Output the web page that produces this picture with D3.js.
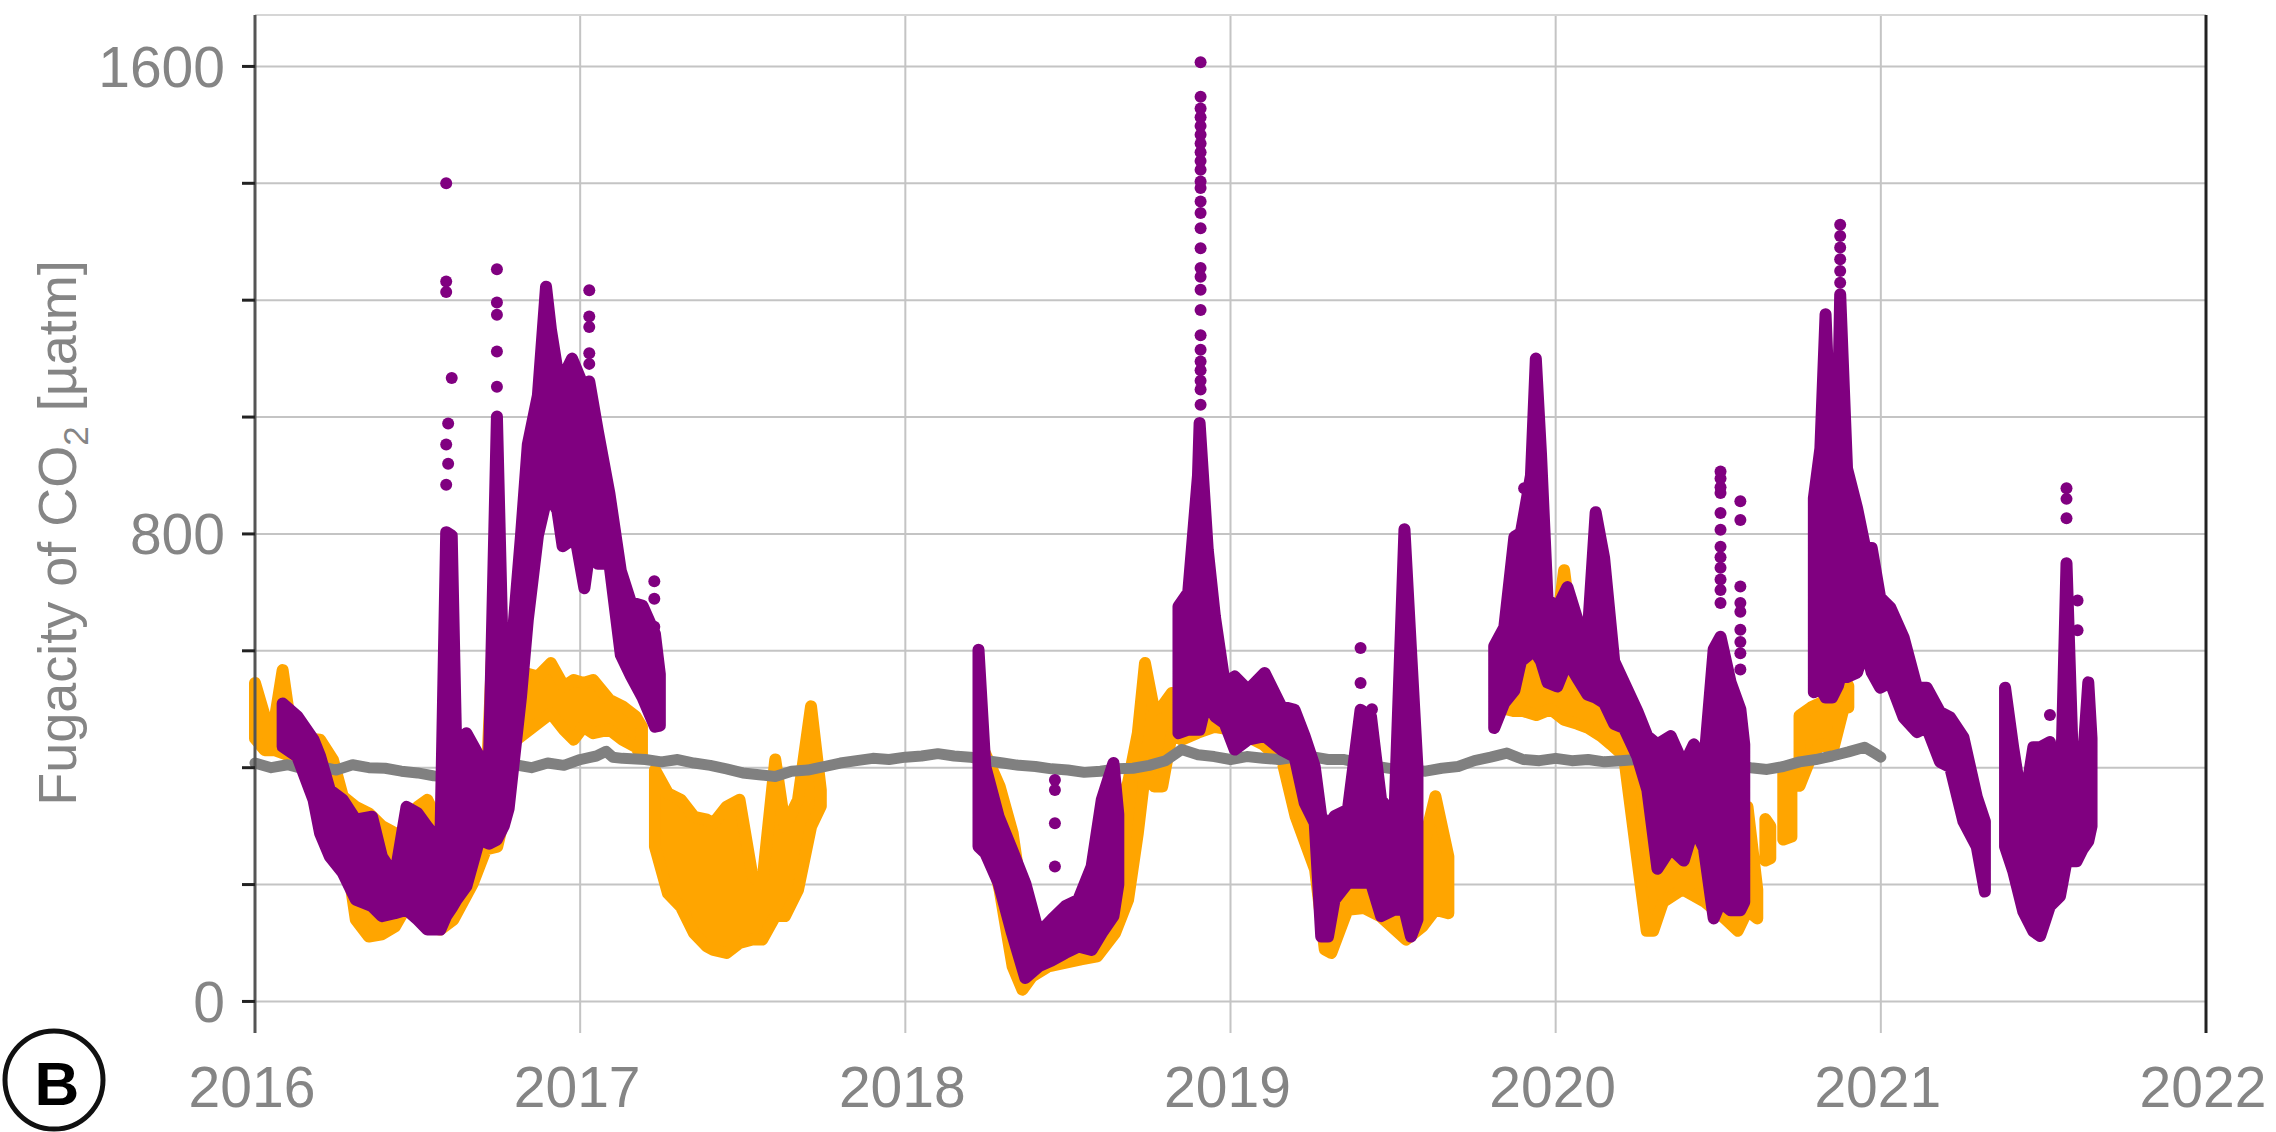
<!DOCTYPE html>
<html>
  <head>
    <meta charset="utf-8" />
    <script src="https://cdn.jsdelivr.net/npm/d3@7"></script>
    <style>
      body {
        margin: 0;
        background: #fff;
        font-family: "Liberation Sans", Arial, sans-serif;
      }
    </style>
  </head>
  <body>
    <script>
      // year ticks and the y ticks that carry a label
      var years = [2016, 2017, 2018, 2019, 2020, 2021, 2022];
      var yTicks = [0, 200, 400, 600, 800, 1000, 1200, 1400, 1600];
      var yLabels = [0, 800, 1600];

      // orange series: [year, low, high] envelope of the dense points, null = gap
      var orangeBand = [
        [2016.0, 450, 545], [2016.03, 430, 488], [2016.06, 430, 480], [2016.085, 425, 567],
        [2016.11, 420, 470], [2016.16, 400, 450], [2016.2, 360, 448], [2016.24, 330, 413],
        [2016.27, 290, 351], [2016.31, 140, 333], [2016.35, 111, 322], [2016.39, 115, 300],
        [2016.43, 128, 288], [2016.46, 157, 231], [2016.5, 146, 333], [2016.53, 128, 345],
        [2016.57, 123, 299], [2016.61, 140, 288], [2016.67, 202, 356], [2016.71, 260, 345],
        [2016.745, 265, 800], [2016.76, 300, 516], [2016.79, 442, 516], [2016.83, 459, 562],
        [2016.87, 476, 556], [2016.91, 493, 579], [2016.95, 465, 539], [2016.98, 448, 550],
        [2017.01, 470, 545], [2017.04, 459, 550], [2017.09, 465, 516], [2017.13, 448, 505],
        [2017.17, 436, 488], [2017.19, 420, 470], null,
        [2017.23, 265, 396], [2017.27, 185, 356], [2017.31, 162, 345], [2017.35, 117, 316],
        [2017.39, 94, 311], [2017.41, 88, 305], [2017.45, 83, 333], [2017.49, 100, 345],
        [2017.53, 106, 214], [2017.56, 106, 202], [2017.6, 146, 414], [2017.63, 146, 299],
        [2017.67, 191, 345], [2017.71, 299, 505], [2017.74, 334, 362], null,
        [2018.245, 300, 425], [2018.29, 191, 368], [2018.33, 60, 288], [2018.36, 20, 174],
        [2018.39, 43, 117], [2018.44, 60, 117], [2018.54, 72, 146], [2018.59, 77, 231],
        [2018.645, 117, 316], [2018.685, 174, 374], [2018.715, 288, 459], [2018.737, 391, 579],
        [2018.765, 368, 499], [2018.79, 368, 505], [2018.82, 459, 528], [2018.85, 448, 516],
        [2018.9, 460, 530], [2018.95, 470, 520], [2019.0, 465, 525], [2019.05, 454, 500],
        [2019.1, 440, 480], [2019.16, 410, 440], [2019.2, 317, 419], [2019.26, 226, 317],
        [2019.29, 89, 260], [2019.31, 83, 200], [2019.36, 157, 203], [2019.41, 160, 210],
        [2019.46, 146, 203], [2019.54, 106, 174], [2019.59, 128, 260], [2019.63, 157, 351],
        [2019.67, 151, 248], null,
        [2019.82, 504, 546], [2019.87, 497, 580], [2019.9, 497, 596], [2019.94, 490, 617],
        [2019.985, 500, 560], [2020.026, 482, 738], [2020.067, 475, 560], [2020.1, 468, 546],
        [2020.14, 454, 596], [2020.17, 440, 525], [2020.21, 420, 500], [2020.25, 248, 404],
        [2020.28, 121, 333], [2020.3, 121, 300], [2020.33, 170, 262], [2020.39, 192, 262],
        [2020.46, 170, 290], [2020.52, 142, 227], [2020.56, 121, 333], [2020.59, 156, 333],
        [2020.62, 142, 191], null,
        [2020.645, 241, 312], [2020.66, 245, 300], null,
        [2020.7, 277, 390], [2020.725, 282, 393], null,
        [2020.75, 369, 489], [2020.785, 418, 503], [2020.815, 440, 511], [2020.855, 435, 529],
        [2020.886, 503, 554], [2020.9, 503, 540], null
      ];

      // purple series envelope
      var purpleBand = [
        [2016.085, 436, 510], [2016.13, 419, 488], [2016.18, 345, 448], [2016.2, 288, 420],
        [2016.23, 248, 362], [2016.27, 220, 345], [2016.31, 174, 311], [2016.36, 163, 316],
        [2016.39, 146, 248], [2016.43, 151, 214], [2016.466, 157, 333], [2016.5, 140, 322],
        [2016.53, 123, 299], [2016.57, 123, 271], [2016.588, 146, 803], [2016.605, 160, 797],
        [2016.62, 174, 402], [2016.65, 197, 459], [2016.69, 277, 419], [2016.72, 270, 420],
        [2016.744, 277, 1001], [2016.765, 300, 520], [2016.78, 330, 540], [2016.818, 521, 797],
        [2016.839, 653, 953], [2016.87, 797, 1037], [2016.895, 857, 1223], [2016.91, 860, 1150],
        [2016.93, 840, 1080], [2016.946, 779, 1067], [2016.975, 790, 1100], [2016.99, 779, 1080],
        [2017.013, 707, 1049], [2017.028, 767, 1061], [2017.054, 749, 977], [2017.09, 749, 869],
        [2017.125, 593, 737], [2017.156, 557, 683], [2017.192, 520, 677], [2017.23, 470, 629],
        [2017.245, 472, 560], null,
        [2018.225, 265, 602], [2018.246, 254, 402], [2018.287, 202, 316], [2018.328, 117, 260],
        [2018.369, 40, 202], [2018.41, 60, 117], [2018.45, 70, 140], [2018.492, 83, 163],
        [2018.532, 94, 174], [2018.573, 88, 231], [2018.604, 117, 345], [2018.64, 146, 408],
        [2018.655, 200, 320], null,
        [2018.84, 459, 676], [2018.87, 465, 700], [2018.9, 465, 900], [2018.905, 465, 990],
        [2018.93, 522, 773], [2018.952, 488, 659], [2018.982, 476, 545], [2019.013, 431, 556],
        [2019.054, 448, 533], [2019.105, 454, 562], [2019.156, 431, 505], [2019.197, 419, 499],
        [2019.228, 340, 454], [2019.259, 305, 402], [2019.279, 111, 317], [2019.3, 111, 300],
        [2019.32, 174, 317], [2019.361, 203, 328], [2019.4, 203, 499], [2019.432, 203, 488],
        [2019.463, 146, 345], [2019.504, 157, 317], [2019.535, 157, 808], [2019.555, 111, 602],
        [2019.575, 140, 400], null,
        [2019.811, 468, 608], [2019.842, 511, 640], [2019.873, 532, 795], [2019.893, 582, 802],
        [2019.924, 596, 900], [2019.939, 596, 1100], [2019.955, 582, 936], [2019.975, 546, 688],
        [2020.005, 539, 674], [2020.036, 582, 709], [2020.067, 553, 653], [2020.098, 525, 624],
        [2020.123, 520, 837], [2020.149, 511, 759], [2020.18, 475, 582], [2020.21, 468, 546],
        [2020.251, 419, 497], [2020.282, 362, 454], [2020.313, 227, 440], [2020.354, 262, 454],
        [2020.394, 241, 404], [2020.425, 298, 440], [2020.456, 262, 404], [2020.486, 142, 603],
        [2020.507, 170, 624], [2020.538, 156, 546], [2020.568, 156, 500], [2020.58, 170, 440], null,
        [2020.794, 529, 861], [2020.814, 537, 946], [2020.83, 520, 1176], [2020.85, 520, 895],
        [2020.868, 540, 1000], [2020.875, 555, 1210], [2020.896, 555, 912], [2020.927, 563, 844],
        [2020.952, 606, 776], [2020.972, 563, 776], [2020.998, 537, 691], [2021.029, 546, 674],
        [2021.07, 486, 623], [2021.111, 461, 537], [2021.141, 469, 537], [2021.182, 410, 495],
        [2021.213, 401, 486], [2021.254, 308, 452], [2021.295, 265, 350], [2021.32, 188, 308], null,
        [2021.382, 265, 537], [2021.407, 223, 435], [2021.438, 154, 325], [2021.469, 120, 435],
        [2021.49, 112, 435], [2021.52, 163, 444], [2021.551, 180, 308], [2021.571, 240, 750],
        [2021.59, 240, 420], [2021.602, 240, 435], [2021.62, 260, 400], [2021.638, 274, 546],
        [2021.648, 300, 450], null
      ];

      // isolated purple points above the spikes
      var purpleDots = [
        [2016.588, 884], [2016.594, 920], [2016.588, 953], [2016.594, 989], [2016.605, 1067],
        [2016.588, 1214], [2016.588, 1232], [2016.588, 1400],
        [2016.744, 1052], [2016.744, 1112], [2016.744, 1175], [2016.744, 1196], [2016.744, 1253],
        [2017.028, 1091], [2017.028, 1109], [2017.028, 1154], [2017.028, 1172], [2017.028, 1217],
        [2017.228, 641], [2017.228, 689], [2017.228, 719],
        [2018.46, 231], [2018.46, 305], [2018.46, 362], [2018.46, 379],
        [2018.908, 1021], [2018.908, 1047], [2018.908, 1062], [2018.908, 1080], [2018.908, 1095],
        [2018.908, 1115], [2018.908, 1140], [2018.908, 1183], [2018.908, 1218], [2018.908, 1240],
        [2018.908, 1255], [2018.908, 1289], [2018.908, 1323], [2018.908, 1349], [2018.908, 1369],
        [2018.908, 1392], [2018.908, 1403], [2018.908, 1423], [2018.908, 1438], [2018.908, 1453],
        [2018.908, 1468], [2018.908, 1483], [2018.908, 1498], [2018.908, 1513], [2018.908, 1528],
        [2018.908, 1548], [2018.908, 1607],
        [2019.4, 545], [2019.4, 605], [2019.435, 500],
        [2019.903, 878],
        [2020.507, 682], [2020.507, 704], [2020.507, 722], [2020.507, 742], [2020.507, 760],
        [2020.507, 778], [2020.507, 807], [2020.507, 836], [2020.507, 870], [2020.507, 880],
        [2020.507, 895], [2020.507, 907],
        [2020.568, 568], [2020.568, 596], [2020.568, 615], [2020.568, 636], [2020.568, 667],
        [2020.568, 682], [2020.568, 710], [2020.568, 824], [2020.568, 856],
        [2020.875, 1230], [2020.875, 1250], [2020.875, 1270], [2020.875, 1290], [2020.875, 1310],
        [2020.875, 1329],
        [2021.52, 490], [2021.571, 827], [2021.571, 860], [2021.571, 878],
        [2021.605, 635], [2021.605, 686], [2021.638, 495]
      ];

      // grey series (atmosphere)
      var greySeries = [
        [2016.0, 408], [2016.05, 400], [2016.1, 405], [2016.15, 398], [2016.2, 402], [2016.25, 396],
        [2016.3, 405], [2016.35, 400], [2016.4, 399], [2016.45, 394], [2016.5, 391], [2016.55, 386],
        [2016.6, 384], [2016.65, 388], [2016.7, 395], [2016.75, 400], [2016.8, 405], [2016.85, 400],
        [2016.9, 408], [2016.95, 404], [2017.0, 414], [2017.05, 420], [2017.08, 428], [2017.1, 418],
        [2017.13, 416], [2017.2, 414], [2017.25, 410], [2017.3, 414], [2017.35, 408], [2017.4, 404],
        [2017.45, 398], [2017.5, 391], [2017.55, 388], [2017.6, 385], [2017.65, 394], [2017.7, 396],
        [2017.75, 402], [2017.8, 408], [2017.85, 412], [2017.9, 416], [2017.95, 414], [2018.0, 418],
        [2018.05, 420], [2018.1, 424], [2018.15, 420], [2018.2, 418], [2018.25, 412], [2018.3, 408],
        [2018.35, 404], [2018.4, 402], [2018.45, 398], [2018.5, 396], [2018.55, 392], [2018.6, 394],
        [2018.65, 398], [2018.7, 399], [2018.75, 404], [2018.8, 412], [2018.85, 431], [2018.9, 422],
        [2018.95, 419], [2019.0, 414], [2019.05, 419], [2019.1, 416], [2019.15, 414], [2019.2, 418],
        [2019.25, 419], [2019.3, 414], [2019.35, 414], [2019.4, 408], [2019.45, 402], [2019.5, 398],
        [2019.55, 396], [2019.6, 394], [2019.65, 399], [2019.7, 402], [2019.75, 412], [2019.8, 418],
        [2019.85, 425], [2019.9, 414], [2019.95, 412], [2020.0, 416], [2020.05, 412], [2020.1, 414],
        [2020.15, 410], [2020.2, 412], [2020.25, 414], [2020.3, 410], [2020.35, 415], [2020.4, 412],
        [2020.45, 408], [2020.5, 404], [2020.55, 404], [2020.6, 400], [2020.65, 397], [2020.7, 402],
        [2020.75, 410], [2020.8, 414], [2020.85, 420], [2020.9, 427], [2020.95, 435], [2020.98, 425],
        [2021.0, 418]
      ];

      var width = 2276,
        height = 1132;
      var plotLeft = 255,
        plotRight = 2206,
        plotTop = 15,
        plotBottom = 1033;

      var svg = d3
        .select("body")
        .append("svg")
        .attr("width", width)
        .attr("height", height);

      var x = d3.scaleLinear().domain([2016, 2022]).range([plotLeft, plotRight]);
      var y = d3.scaleLinear().domain([-54, 1688]).range([plotBottom, plotTop]);

      // grid
      svg
        .append("g")
        .selectAll("line")
        .data(yTicks)
        .enter()
        .append("line")
        .attr("x1", plotLeft)
        .attr("x2", plotRight)
        .attr("y1", function (d) {
          return y(d);
        })
        .attr("y2", function (d) {
          return y(d);
        })
        .attr("stroke", "#c4c4c4")
        .attr("stroke-width", 2);

      svg
        .append("g")
        .selectAll("line")
        .data(years.slice(1, -1))
        .enter()
        .append("line")
        .attr("x1", function (d) {
          return x(d);
        })
        .attr("x2", function (d) {
          return x(d);
        })
        .attr("y1", plotTop)
        .attr("y2", plotBottom)
        .attr("stroke", "#c4c4c4")
        .attr("stroke-width", 2);

      svg
        .append("line")
        .attr("x1", plotLeft)
        .attr("x2", plotRight)
        .attr("y1", plotTop)
        .attr("y2", plotTop)
        .attr("stroke", "#d6d6d6")
        .attr("stroke-width", 2);

      // data
      var band = d3
        .area()
        .defined(function (d) {
          return d;
        })
        .x(function (d) {
          return x(d[0]);
        })
        .y0(function (d) {
          return y(d[1]);
        })
        .y1(function (d) {
          return y(d[2]);
        });

      svg
        .append("path")
        .datum(orangeBand)
        .attr("d", band)
        .attr("fill", "#ffa500")
        .attr("stroke", "#ffa500")
        .attr("stroke-width", 12)
        .attr("stroke-linejoin", "round");

      var line = d3
        .line()
        .x(function (d) {
          return x(d[0]);
        })
        .y(function (d) {
          return y(d[1]);
        });

      svg
        .append("path")
        .datum(greySeries)
        .attr("d", line)
        .attr("fill", "none")
        .attr("stroke", "#808080")
        .attr("stroke-width", 11)
        .attr("stroke-linejoin", "round")
        .attr("stroke-linecap", "round");

      svg
        .append("path")
        .datum(purpleBand)
        .attr("d", band)
        .attr("fill", "#800080")
        .attr("stroke", "#800080")
        .attr("stroke-width", 12)
        .attr("stroke-linejoin", "round");

      svg
        .append("g")
        .selectAll("circle")
        .data(purpleDots)
        .enter()
        .append("circle")
        .attr("cx", function (d) {
          return x(d[0]);
        })
        .attr("cy", function (d) {
          return y(d[1]);
        })
        .attr("r", 6)
        .attr("fill", "#800080");

      // axes lines
      svg
        .append("line")
        .attr("x1", plotLeft)
        .attr("x2", plotLeft)
        .attr("y1", plotTop)
        .attr("y2", plotBottom)
        .attr("stroke", "#555")
        .attr("stroke-width", 3);

      svg
        .append("line")
        .attr("x1", plotRight)
        .attr("x2", plotRight)
        .attr("y1", plotTop)
        .attr("y2", plotBottom)
        .attr("stroke", "#222")
        .attr("stroke-width", 3);

      svg
        .append("g")
        .selectAll("line")
        .data(yTicks)
        .enter()
        .append("line")
        .attr("x1", plotLeft - 13)
        .attr("x2", plotLeft)
        .attr("y1", function (d) {
          return y(d);
        })
        .attr("y2", function (d) {
          return y(d);
        })
        .attr("stroke", "#222")
        .attr("stroke-width", 3);

      svg
        .append("g")
        .selectAll("text")
        .data(yLabels)
        .enter()
        .append("text")
        .attr("x", plotLeft - 30)
        .attr("y", function (d) {
          return y(d);
        })
        .attr("dy", "0.36em")
        .attr("text-anchor", "end")
        .attr("font-size", 57)
        .attr("fill", "#858585")
        .text(function (d) {
          return d;
        });

      svg
        .append("g")
        .selectAll("text")
        .data(years)
        .enter()
        .append("text")
        .attr("x", function (d) {
          return x(d) - 3;
        })
        .attr("y", 1107)
        .attr("text-anchor", "middle")
        .attr("font-size", 57)
        .attr("fill", "#858585")
        .text(function (d) {
          return d;
        });

      var title = svg
        .append("text")
        .attr("transform", "translate(76,533) rotate(-90)")
        .attr("text-anchor", "middle")
        .attr("font-size", 54)
        .attr("fill", "#858585");
      title.append("tspan").text("Fugacity of CO");
      title.append("tspan").attr("font-size", 35).attr("dy", 12).text("2");
      title.append("tspan").attr("dy", -12).text(" [µatm]");

      // panel letter
      svg
        .append("circle")
        .attr("cx", 54)
        .attr("cy", 1080)
        .attr("r", 49)
        .attr("fill", "none")
        .attr("stroke", "#111")
        .attr("stroke-width", 5);

      svg
        .append("text")
        .attr("x", 57)
        .attr("y", 1083)
        .attr("dy", "0.36em")
        .attr("text-anchor", "middle")
        .attr("font-size", 62)
        .attr("font-weight", "bold")
        .attr("fill", "#000")
        .text("B");
    </script>
  </body>
</html>
